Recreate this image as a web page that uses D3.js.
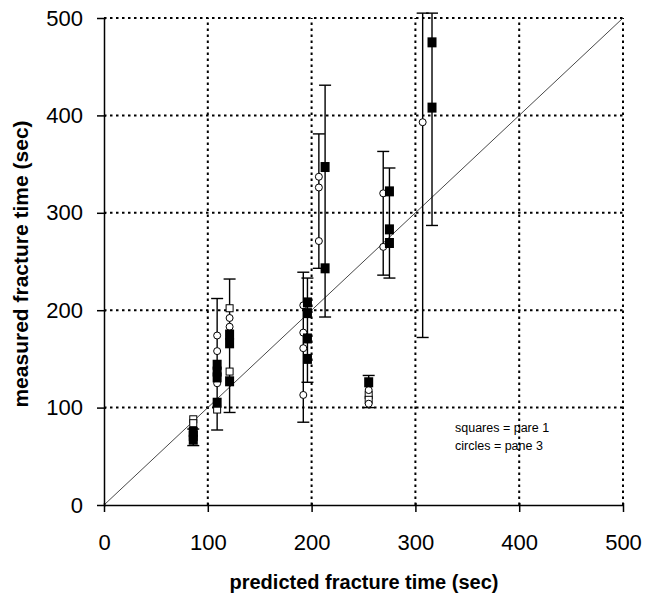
<!DOCTYPE html>
<html>
<head>
<meta charset="utf-8">
<script src="https://cdn.jsdelivr.net/npm/d3@7"></script>
<style>
  html, body { margin: 0; padding: 0; background: #fff; }
  svg { display: block; }
  text { font-family: Arial, "Liberation Sans", sans-serif; fill: #000; }
</style>
</head>
<body>
<svg id="chart" width="645" height="601"></svg>
<script>
// Axis ticks
const xTicks = [0, 100, 200, 300, 400, 500];
const yTicks = [0, 100, 200, 300, 400, 500];

// Error bars: [predicted time, lower measured, upper measured]
const errorBars = [
  [86, 61, 78],
  [109, 77, 212],
  [121, 95, 232],
  [192, 85, 239],
  [196, 126, 233],
  [207, 243, 381],
  [213, 193, 431],
  [255, 100, 133],
  [269, 236, 363],
  [275, 233, 346],
  [307, 172, 505],
  [316, 287, 505]
];

// Filled squares (pane 1)
const filledSquares = [
  [86, 75], [86, 71], [86, 67],
  [109, 144], [109, 137], [109, 131], [109, 105],
  [121, 175], [121, 166], [121, 127],
  [196, 208], [196, 197], [196, 171], [196, 150],
  [213, 347], [213, 243],
  [255, 126],
  [275, 322], [275, 283], [275, 269],
  [316, 475], [316, 408]
];

// Open squares (pane 1)
const openSquares = [
  [86, 88], [86, 84],
  [109, 98],
  [121, 202], [121, 137],
  [255, 113], [255, 108]
];

// Open circles (pane 3)
const openCircles = [
  [109, 174], [109, 158], [109, 125],
  [121, 192], [121, 183],
  [192, 205], [192, 177], [192, 161], [192, 113],
  [207, 337], [207, 326], [207, 271],
  [255, 118], [255, 104],
  [269, 320], [269, 265],
  [307, 393]
];

const legendLines = ["squares = pare 1", "circles = pane 3"];

const svg = d3.select("#chart");
const x = d3.scaleLinear().domain([0, 500]).range([104, 623]);
const y = d3.scaleLinear().domain([0, 500]).range([505, 18]);

// Dotted grid, including the top and right frame
const grid = svg.append("g");
grid.selectAll("line.gx").data(xTicks.filter(d => d > 0)).join("line")
  .attr("x1", d => x(d)).attr("x2", d => x(d))
  .attr("y1", y(0)).attr("y2", y(500))
  .attr("stroke", "#000").attr("stroke-width", 2).attr("stroke-dasharray", "2.5,3.5");
grid.selectAll("line.gy").data(yTicks.filter(d => d > 0)).join("line")
  .attr("x1", x(0)).attr("x2", x(500))
  .attr("y1", d => y(d)).attr("y2", d => y(d))
  .attr("stroke", "#000").attr("stroke-width", 2).attr("stroke-dasharray", "2.5,3.5");

// Line of agreement y = x
svg.append("line")
  .attr("x1", x(0)).attr("y1", y(0)).attr("x2", x(500)).attr("y2", y(500))
  .attr("stroke", "#333").attr("stroke-width", 0.9);

// Axes
const xAxis = svg.append("g").attr("transform", `translate(0,${y(0)})`)
  .call(d3.axisBottom(x).tickValues(xTicks).tickSize(7).tickSizeOuter(0).tickPadding(22));
xAxis.selectAll(".tick line").attr("y1", -2).attr("stroke-width", 1.5);
xAxis.select(".domain").attr("stroke-width", 1.5);
xAxis.selectAll("text").style("font-size", "22px").style("font-family", "Arial, 'Liberation Sans', sans-serif");

const yAxis = svg.append("g").attr("transform", `translate(${x(0)},0)`)
  .call(d3.axisLeft(y).tickValues(yTicks).tickSize(7).tickSizeOuter(0).tickPadding(14));
yAxis.selectAll(".tick line").attr("x1", 2).attr("stroke-width", 1.5);
yAxis.select(".domain").attr("stroke-width", 1.5);
yAxis.selectAll("text").style("font-size", "22px").style("font-family", "Arial, 'Liberation Sans', sans-serif");

// Error bars
const eb = svg.append("g").attr("stroke", "#000").attr("stroke-width", 1.4);
eb.selectAll("line.v").data(errorBars).join("line")
  .attr("x1", d => x(d[0])).attr("x2", d => x(d[0]))
  .attr("y1", d => y(d[1])).attr("y2", d => y(d[2]));
eb.selectAll("line.lo").data(errorBars).join("line")
  .attr("x1", d => x(d[0]) - 6).attr("x2", d => x(d[0]) + 6)
  .attr("y1", d => y(d[1])).attr("y2", d => y(d[1]));
eb.selectAll("line.hi").data(errorBars).join("line")
  .attr("x1", d => x(d[0]) - 6).attr("x2", d => x(d[0]) + 6)
  .attr("y1", d => y(d[2])).attr("y2", d => y(d[2]));

// Markers
svg.append("g").selectAll("rect").data(openSquares).join("rect")
  .attr("x", d => x(d[0]) - 3.5).attr("y", d => y(d[1]) - 3.5)
  .attr("width", 7).attr("height", 7)
  .attr("fill", "#fff").attr("stroke", "#000").attr("stroke-width", 1);
svg.append("g").selectAll("circle").data(openCircles).join("circle")
  .attr("cx", d => x(d[0])).attr("cy", d => y(d[1])).attr("r", 3.5)
  .attr("fill", "#fff").attr("stroke", "#000").attr("stroke-width", 1);
svg.append("g").selectAll("rect").data(filledSquares).join("rect")
  .attr("x", d => x(d[0]) - 4.5).attr("y", d => y(d[1]) - 5)
  .attr("width", 9).attr("height", 10).attr("fill", "#000");

// Axis titles
svg.append("text")
  .attr("x", 364).attr("y", 589).attr("text-anchor", "middle")
  .style("font-size", "20px").style("font-weight", "bold")
  .text("predicted fracture time (sec)");
svg.append("text")
  .attr("transform", `translate(28,264) rotate(-90)`).attr("text-anchor", "middle")
  .style("font-size", "21px").style("font-weight", "bold")
  .text("measured fracture time (sec)");

// Legend note
svg.append("g").selectAll("text").data(legendLines).join("text")
  .attr("x", 455).attr("y", (d, i) => 432 + i * 18)
  .style("font-size", "12.5px")
  .text(d => d);
</script>
</body>
</html>
